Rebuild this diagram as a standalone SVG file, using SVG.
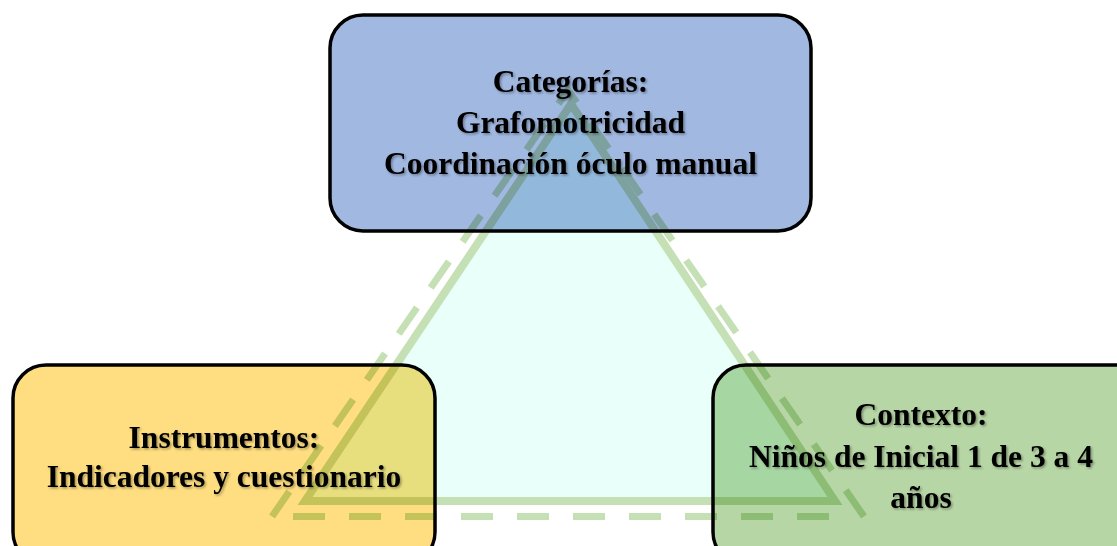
<svg xmlns="http://www.w3.org/2000/svg" width="1117" height="546" viewBox="0 0 1117 546">
  <defs>
    <filter id="shadow" x="-10%" y="-30%" width="120%" height="160%">
      <feDropShadow dx="1.5" dy="1.5" stdDeviation="1" flood-color="#000" flood-opacity="0.35"/>
    </filter>
  </defs>
  <style>
    .box { stroke: #000; stroke-width: 3.5; }
    .lbl { font-family: "Liberation Serif", "Times New Roman", serif; font-weight: bold; font-size: 31.5px; fill: #000; text-anchor: middle; filter: url(#shadow); }
    .tri-fill { fill: #E8FFFA; stroke: #C5E0B4; stroke-width: 8; stroke-linejoin: miter; }
    .tri-dash { fill: none; stroke: #C5E0B4; stroke-width: 7; stroke-dasharray: 32 24; }
    .blend { mix-blend-mode: multiply; }
  </style>
  <rect width="1117" height="546" fill="#fff"/>

  <g id="node-categorias">
    <rect class="box" x="330" y="15" width="481" height="216" rx="33" fill="#A1B8E1"/>
    <text class="lbl" x="570.5" y="92">Categorías:</text>
    <text class="lbl" x="570.5" y="133">Grafomotricidad</text>
    <text class="lbl" x="570.5" y="174">Coordinación óculo manual</text>
  </g>

  <g id="node-instrumentos">
    <rect class="box" x="13" y="365" width="422" height="200" rx="33" fill="#FEDE80"/>
    <text class="lbl" x="224" y="448">Instrumentos:</text>
    <text class="lbl" x="224" y="487">Indicadores y cuestionario</text>
  </g>

  <g id="node-contexto">
    <rect class="box" x="713" y="365" width="450" height="200" rx="33" fill="#B7D6A5"/>
    <text class="lbl" x="921" y="425">Contexto:</text>
    <text class="lbl" x="921" y="467">Niños de Inicial 1 de 3 a 4</text>
    <text class="lbl" x="921" y="508">años</text>
  </g>

  <g id="connectors" class="blend">
    <polygon class="tri-fill" points="571,104 305,501 835,501"/>
    <path class="tri-dash" d="M864,516.5 L568,90 L272,516.5 M293,516.5 L830,516.5"/>
  </g>
</svg>
